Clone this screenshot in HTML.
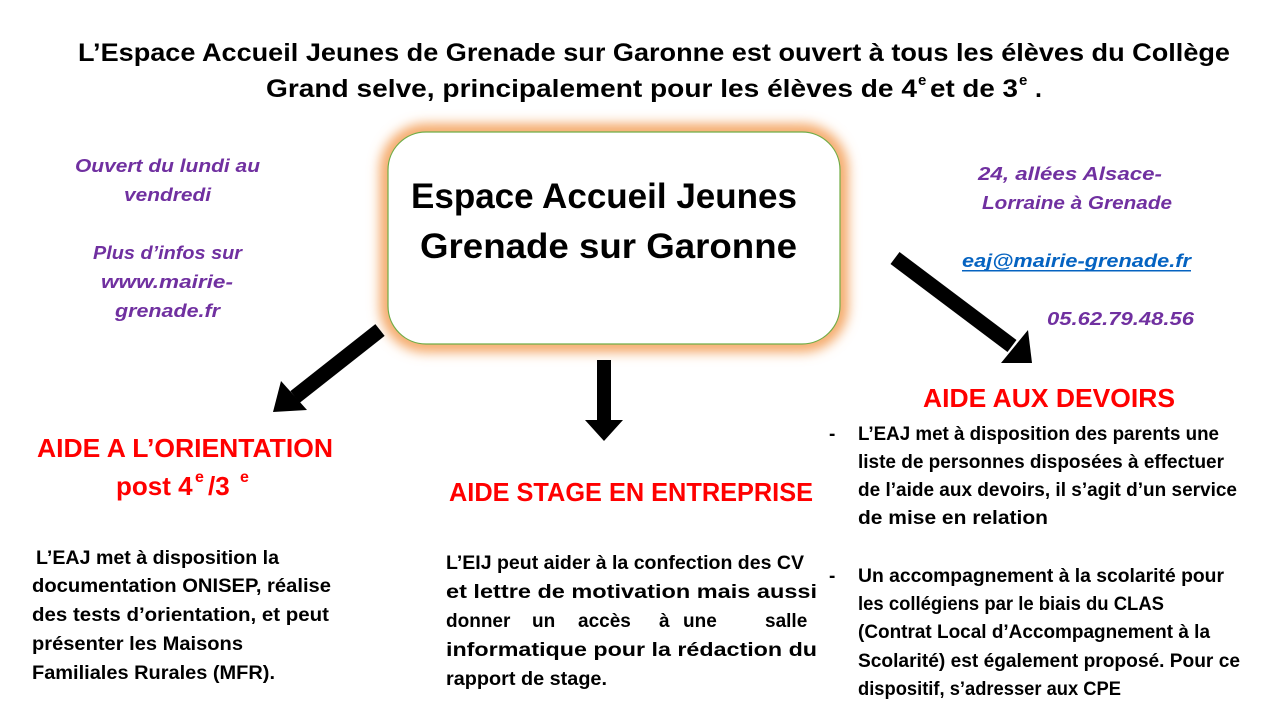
<!DOCTYPE html>
<html><head><meta charset="utf-8"><style>
html,body{margin:0;padding:0;background:#fff;}
svg{display:block;}
text{font-family:"Liberation Sans",sans-serif;font-weight:bold;}
.t{fill:#000;font-size:25px;}
.p{fill:#7030a0;font-size:18px;font-style:italic;}
.r{fill:#ff0000;font-size:26px;}
.b{fill:#000;font-size:19px;}
.big{fill:#000;font-size:35px;}
</style></head><body>
<svg width="1280" height="720" viewBox="0 0 1280 720" xmlns="http://www.w3.org/2000/svg">
<defs><filter id="g" x="-20%" y="-20%" width="140%" height="140%"><feGaussianBlur stdDeviation="6"/></filter></defs>
<text class="t" x="78" y="61" textLength="1152" lengthAdjust="spacingAndGlyphs">L’Espace Accueil Jeunes de Grenade sur Garonne est ouvert à tous les élèves du Collège</text>
<text class="t" x="266" y="97" textLength="651" lengthAdjust="spacingAndGlyphs">Grand selve, principalement pour les élèves de 4</text>
<text class="t" x="918" y="85" style="font-size:15px">e</text>
<text class="t" x="930" y="97" textLength="88" lengthAdjust="spacingAndGlyphs">et de 3</text>
<text class="t" x="1019" y="85" style="font-size:15px">e</text>
<text class="t" x="1035" y="97">.</text>

<rect x="388" y="132" width="452" height="212" rx="38" fill="none" stroke="#f4a460" stroke-width="16" filter="url(#g)"/>
<rect x="388" y="132" width="452" height="212" rx="38" fill="#fff" stroke="#70ad47" stroke-width="1.2"/>
<text class="big" x="411" y="208" textLength="386" lengthAdjust="spacingAndGlyphs">Espace Accueil Jeunes</text>
<text class="big" x="420" y="258" textLength="377" lengthAdjust="spacingAndGlyphs">Grenade sur Garonne</text>

<text class="p" x="75" y="172" textLength="185" lengthAdjust="spacingAndGlyphs">Ouvert du lundi au</text>
<text class="p" x="124" y="201" textLength="87" lengthAdjust="spacingAndGlyphs">vendredi</text>
<text class="p" x="93" y="259" textLength="149" lengthAdjust="spacingAndGlyphs">Plus d’infos sur</text>
<text class="p" x="101" y="288" textLength="132" lengthAdjust="spacingAndGlyphs">www.mairie-</text>
<text class="p" x="115" y="317" textLength="105" lengthAdjust="spacingAndGlyphs">grenade.fr</text>

<text class="p" x="978" y="180" textLength="184" lengthAdjust="spacingAndGlyphs">24, allées Alsace-</text>
<text class="p" x="982" y="209" textLength="190" lengthAdjust="spacingAndGlyphs">Lorraine à Grenade</text>
<text class="p" x="962" y="267" textLength="229" lengthAdjust="spacingAndGlyphs" style="fill:#0563c1">eaj@mairie-grenade.fr</text>
<rect x="962" y="270" width="229" height="1.5" fill="#0563c1"/>
<text class="p" x="1047" y="325" textLength="147" lengthAdjust="spacingAndGlyphs">05.62.79.48.56</text>

<line x1="380" y1="330" x2="295" y2="397" stroke="#000" stroke-width="15"/>
<polygon points="273,412 281,381 307,410" fill="#000"/>
<rect x="597" y="360" width="14" height="62" fill="#000"/>
<polygon points="585,420 623,420 604,441" fill="#000"/>
<line x1="895" y1="258" x2="1012" y2="346" stroke="#000" stroke-width="15"/>
<polygon points="1032,363 1001,363 1028,330" fill="#000"/>

<text class="r" x="37" y="457" textLength="296" lengthAdjust="spacingAndGlyphs">AIDE A L’ORIENTATION</text>
<text class="r" x="116" y="495">post 4</text>
<text class="r" x="195" y="482" style="font-size:16px">e</text>
<text class="r" x="208" y="495">/3</text>
<text class="r" x="240" y="482" style="font-size:16px">e</text>
<text class="r" x="449" y="501" textLength="364" lengthAdjust="spacingAndGlyphs">AIDE STAGE EN ENTREPRISE</text>
<text class="r" x="923" y="407" textLength="252" lengthAdjust="spacingAndGlyphs">AIDE AUX DEVOIRS</text>

<text class="b" x="36" y="564" textLength="243" lengthAdjust="spacingAndGlyphs">L’EAJ met à disposition la</text>
<text class="b" x="32" y="592" textLength="299" lengthAdjust="spacingAndGlyphs">documentation ONISEP, réalise</text>
<text class="b" x="32" y="621" textLength="297" lengthAdjust="spacingAndGlyphs">des tests d’orientation, et peut</text>
<text class="b" x="32" y="650" textLength="211" lengthAdjust="spacingAndGlyphs">présenter les Maisons</text>
<text class="b" x="32" y="679" textLength="243" lengthAdjust="spacingAndGlyphs">Familiales Rurales (MFR).</text>

<text class="b" x="446" y="569" textLength="358" lengthAdjust="spacingAndGlyphs">L’EIJ peut aider à la confection des CV</text>
<text class="b" x="446" y="598" textLength="371" lengthAdjust="spacingAndGlyphs">et lettre de motivation mais aussi</text>
<text class="b" y="627"><tspan x="446">donner</tspan><tspan x="532">un</tspan><tspan x="578">accès</tspan><tspan x="659">à</tspan><tspan x="683">une</tspan><tspan x="765">salle</tspan></text>
<text class="b" x="446" y="656" textLength="371" lengthAdjust="spacingAndGlyphs">informatique pour la rédaction du</text>
<text class="b" x="446" y="685" textLength="161" lengthAdjust="spacingAndGlyphs">rapport de stage.</text>

<text class="b" x="829" y="440">-</text>
<text class="b" x="858" y="440" textLength="361" lengthAdjust="spacingAndGlyphs">L’EAJ met à disposition des parents une</text>
<text class="b" x="858" y="468" textLength="366" lengthAdjust="spacingAndGlyphs">liste de personnes disposées à effectuer</text>
<text class="b" x="858" y="496" textLength="379" lengthAdjust="spacingAndGlyphs">de l’aide aux devoirs, il s’agit d’un service</text>
<text class="b" x="858" y="524" textLength="190" lengthAdjust="spacingAndGlyphs">de mise en relation</text>
<text class="b" x="829" y="582">-</text>
<text class="b" x="858" y="582" textLength="366" lengthAdjust="spacingAndGlyphs">Un accompagnement à la scolarité pour</text>
<text class="b" x="858" y="610" textLength="306" lengthAdjust="spacingAndGlyphs">les collégiens par le biais du CLAS</text>
<text class="b" x="858" y="638" textLength="352" lengthAdjust="spacingAndGlyphs">(Contrat Local d’Accompagnement à la</text>
<text class="b" x="858" y="667" textLength="382" lengthAdjust="spacingAndGlyphs">Scolarité) est également proposé. Pour ce</text>
<text class="b" x="858" y="695" textLength="263" lengthAdjust="spacingAndGlyphs">dispositif, s’adresser aux CPE</text>
</svg>
</body></html>
